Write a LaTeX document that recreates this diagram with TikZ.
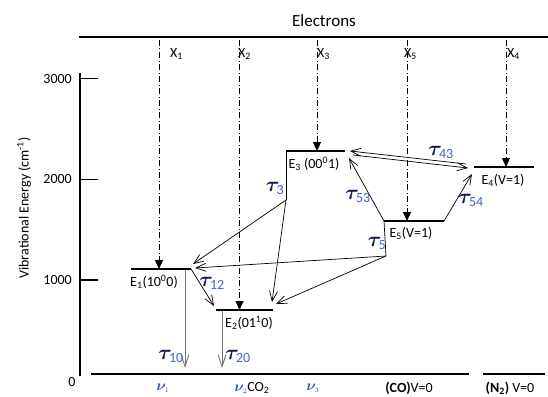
\documentclass[tikz,border=0pt]{standalone}
\usepackage{fontspec}
\setmainfont{Carlito}
\usetikzlibrary{arrows.meta}
\definecolor{taucol}{rgb}{0.08,0.10,0.30}
\definecolor{subcol}{rgb}{0.25,0.40,0.75}
\definecolor{nucol}{rgb}{0.15,0.30,0.65}
\newcommand{\tlab}[1]{{\fontsize{20}{22}\selectfont$\color{taucol}\boldsymbol{\tau}_{\color{subcol}\mathrm{#1}}$}}
\newcommand{\nlab}[1]{{\fontsize{14}{16}\selectfont$\color{nucol}\boldsymbol{\nu}_{\scriptscriptstyle #1}$}}
\usepackage{amsmath,bm}
\tikzset{
  lab/.style={font=\fontsize{14}{16}\selectfont, inner sep=1pt},
  bar/.style={line width=2.4pt},
  pump/.style={line width=1pt, dash pattern=on 6pt off 2.5pt on 1pt off 2.5pt, -{Triangle[length=9pt,width=8pt]}},
  relax/.style={line width=0.7pt, -{Straight Barb[length=10pt,width=8pt]}},
  decay/.style={line width=0.9pt, gray!90!black, -{Straight Barb[length=12pt,width=8pt]}}
}
\begin{document}
\begin{tikzpicture}[x=1pt, y=-1pt]
\useasboundingbox (0,0) rectangle (548,396);
% axes and frame lines
\node[lab, font=\fontsize{17}{19}\selectfont] (elec) at (324,21) {Electrons};
\draw[line width=1.2pt] (79,37) -- (548,37);
\draw[line width=1.2pt] (80,73) -- (80,376);
\foreach \y/\v in {78.7/3000, 179.3/2000, 280/1000} {
  \draw[line width=1.2pt] (80,\y) -- (98,\y);
  \node[lab, anchor=east] at (73,\y) {\v};
}
\node[lab] (zero) at (72,382) {0};
\node[lab, rotate=90] (ylab) at (24,208) {Vibrational Energy (cm\textsuperscript{-1})};
\draw[line width=1.2pt] (91,374) -- (469,374);
\draw[line width=1.2pt] (483,374) -- (545,374);
% energy levels
\coordinate (e1l) at (131,269); \coordinate (e1r) at (191,269);
\coordinate (e2l) at (216,310); \coordinate (e2r) at (273,310);
\coordinate (e3l) at (286,151); \coordinate (e3r) at (345,151);
\coordinate (e4l) at (474,167); \coordinate (e4r) at (534,167);
\coordinate (e5l) at (384,221); \coordinate (e5r) at (444,221);
\draw[bar] (e1l) -- (e1r);
\draw[bar] (e2l) -- (e2r);
\draw[bar] (e3l) -- (e3r);
\draw[bar] (e4l) -- (e4r);
\draw[bar] (e5l) -- (e5r);
\node[lab] (E1) at (154,282) {E\textsubscript{1}(10\textsuperscript{0}0)};
\node[lab] (E2) at (249,323) {E\textsubscript{2}(01\textsuperscript{1}0)};
\node[lab] (E3) at (314,164) {E\textsubscript{3} (00\textsuperscript{0}1)};
\node[lab] (E4) at (503,180) {E\textsubscript{4}(V=1)};
\node[lab] (E5) at (411,233) {E\textsubscript{5}(V=1)};
% electron pumping
\foreach \n/\x/\lx in {1/159/174, 2/239.5/242, 3/317/321, 5/407/408, 4/506/511} {
  \coordinate (x\n) at (\x,40);
  \node[lab, anchor=west] (X\n) at (\lx-5,54) {X\textsubscript{\n}};
}
\draw[pump] (x1) -- (159,269);
\draw[pump] (x2) -- (239.5,310);
\draw[pump] (x3) -- (317,151);
\draw[pump] (x5) -- (407,221);
\draw[pump] (x4) -- (506,167);
% relaxation paths
\coordinate (c3) at (286,200);
\coordinate (c5) at (386,256);
\draw[line width=0.7pt] (e3l) -- (c3);
\draw[line width=0.7pt] (e5l) -- (c5);
\draw[relax] (c3) -- (193,264);
\draw[relax] (c3) -- (272,302);
\draw[relax] (c5) -- (195,268);
\draw[relax] (c5) -- (276,304);
\draw[relax] (e1r) -- (214,306);
\draw[relax] (e5l) -- (349,158);
\draw[relax] (e5r) -- (472,174);
\draw[relax] (466,164) -- (350,151);
\draw[relax] (353,155) -- (468,168);
\draw[decay] (185,270) -- (185,368);
\draw[decay] (222,311) -- (222,368);
% lifetimes
\node[lab] (t12) at (212,283) {\tlab{12}};
\node[lab] (t10) at (171,356) {\tlab{10}};
\node[lab] (t20) at (238,356) {\tlab{20}};
\node[lab] (t3) at (275,188) {\tlab{3}};
\node[lab] (t5) at (377,243) {\tlab{5}};
\node[lab] (t53) at (358,196) {\tlab{53}};
\node[lab] (t54) at (471,200) {\tlab{54}};
\node[lab] (t43) at (441,152) {\tlab{43}};
% modes
\node[lab] (nu1) at (163,388) {\nlab{1}};
\node[lab] (nu2) at (252,388) {\nlab{2}CO\textsubscript{2}};
\node[lab] (nu3) at (313,388) {\nlab{3}};
\node[lab] (co) at (409,388) {\textbf{(CO)}V=0};
\node[lab] (n2) at (510,388) {\textbf{(N\textsubscript{2})} V=0};
\end{tikzpicture}
\end{document}
